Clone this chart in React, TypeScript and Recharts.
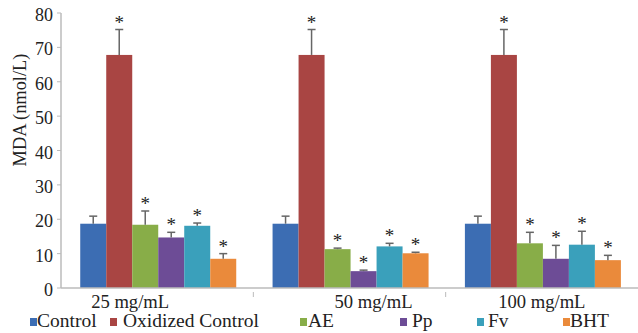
import React from 'react';
import { BarChart, Bar, XAxis, YAxis, Legend, Label } from 'recharts';

const categories = ['25 mg/mL', '50 mg/mL', '100 mg/mL'];
const controlValues = [18.7, 18.7, 18.7];
const controlErrors = [2.2, 2.2, 2.2];
const oxidizedValues = [67.8, 67.8, 67.8];
const oxidizedErrors = [7.4, 7.4, 7.4];
const aeValues = [18.4, 11.3, 13.0];
const aeErrors = [4.0, 0.3, 3.2];
const ppValues = [14.7, 4.9, 8.5];
const ppErrors = [1.5, 0.3, 3.9];
const fvValues = [18.1, 12.1, 12.6];
const fvErrors = [0.8, 0.9, 3.9];
const bhtValues = [8.5, 10.1, 8.1];
const bhtErrors = [1.5, 0.3, 1.4];
const yTicks = [0, 10, 20, 30, 40, 50, 60, 70, 80];

const data = categories.map((c, i) => ({
  cat: c,
  control: controlValues[i], controlErr: controlErrors[i],
  oxidized: oxidizedValues[i], oxidizedErr: oxidizedErrors[i],
  ae: aeValues[i], aeErr: aeErrors[i],
  pp: ppValues[i], ppErr: ppErrors[i],
  fv: fvValues[i], fvErr: fvErrors[i],
  bht: bhtValues[i], bhtErr: bhtErrors[i],
}));

const series = [
  { key: 'control', name: 'Control', color: '#3c6db3', star: false },
  { key: 'oxidized', name: 'Oxidized Control', color: '#a94543', star: true },
  { key: 'ae', name: 'AE', color: '#88ad48', star: true },
  { key: 'pp', name: 'Pp', color: '#6d4c96', star: true },
  { key: 'fv', name: 'Fv', color: '#3aa0bb', star: true },
  { key: 'bht', name: 'BHT', color: '#ea8a3b', star: true },
];

const FONT = 'Liberation Serif, DejaVu Serif, serif';
const W = 638;
const H = 333;
const LEFT = 61;

const txtStyle = { fontFamily: FONT };

const makeShape = (key: string, star: boolean) => (props: any) => {
  const { x, y, width, height, fill, payload } = props;
  const v = payload[key];
  const e = payload[key + 'Err'];
  const ppu = v ? height / v : 0;
  const errTop = y - e * ppu;
  const cx = x + width / 2;
  return (
    <g>
      <rect x={x} y={y} width={width} height={height} fill={fill} />
      <line x1={cx} x2={cx} y1={y} y2={errTop} stroke="#666" strokeWidth={1.5} />
      <line x1={cx - 4} x2={cx + 4} y1={errTop} y2={errTop} stroke="#666" strokeWidth={1.5} />
      {star && (
        <text x={cx} y={errTop - 1} textAnchor="middle" style={txtStyle} fontSize={19} fill="#222">*</text>
      )}
    </g>
  );
};

const labelDx = [-27, 24, 0];

const XTick = (props: any) => {
  const { x, y, payload, index } = props;
  const half = (W - LEFT) / categories.length / 2;
  return (
    <g>
      <text x={x + labelDx[index]} y={y + 12} textAnchor="middle" style={txtStyle} fontSize={18.6} fill="#222">
        {payload.value}
      </text>
      {index < categories.length - 1 && (
        <line x1={x + half} x2={x + half} y1={y - 4} y2={y + 1} stroke="#bbb" strokeWidth={1} />
      )}
    </g>
  );
};

const YTick = (props: any) => {
  const { x, y, payload } = props;
  return (
    <text x={x} y={y + 8} textAnchor="end" style={txtStyle} fontSize={18} fill="#222">
      {payload.value}
    </text>
  );
};

const legendPos = [
  { sq: 30, tx: 37 },
  { sq: 110, tx: 123 },
  { sq: 300, tx: 308 },
  { sq: 400, tx: 412 },
  { sq: 477, tx: 488 },
  { sq: 563, tx: 570 },
];

const LegendContent = () => (
  <svg width={W} height={23} style={{ display: 'block' }}>
    {series.map((s, i) => (
      <g key={s.key}>
        <rect x={legendPos[i].sq} y={8} width={7} height={8} fill={s.color} />
        <text x={legendPos[i].tx} y={17} style={txtStyle} fontSize={19.5} fill="#222">{s.name}</text>
      </g>
    ))}
  </svg>
);

export default function App() {
  return (
    <div style={{ position: 'absolute', left: 0, top: 0, width: W, height: H, background: '#fff' }}>
      <BarChart
        width={W}
        height={H}
        data={data}
        margin={{ top: 13, right: 0, left: 0, bottom: 0 }}
        barCategoryGap="10%"
        barGap={0}
      >
        <XAxis
          dataKey="cat"
          height={22}
          axisLine={{ stroke: '#bbb', strokeWidth: 1.5 }}
          tickLine={false}
          tick={<XTick />}
          interval={0}
        />
        <YAxis
          width={LEFT}
          domain={[0, 80]}
          ticks={yTicks}
          interval={0}
          axisLine={{ stroke: '#bbb', strokeWidth: 1.5 }}
          tickLine={{ stroke: '#bbb' }}
          tickSize={4}
          tickMargin={4}
          tick={<YTick />}
        >
          <Label
            value="MDA (nmol/L)"
            angle={-90}
            position="insideLeft"
            content={() => (
              <text x={20} y={110} transform="rotate(-90 20 110)" textAnchor="middle" dominantBaseline="central" style={txtStyle} fontSize={18.4} fill="#222">
                MDA (nmol/L)
              </text>
            )}
          />
        </YAxis>
        <Legend
          verticalAlign="bottom"
          height={23}
          wrapperStyle={{ left: 0, width: W }}
          content={<LegendContent />}
        />
        {series.map((s) => (
          <Bar
            key={s.key}
            dataKey={s.key}
            name={s.name}
            fill={s.color}
            isAnimationActive={false}
            shape={makeShape(s.key, s.star)}
          />
        ))}
      </BarChart>
    </div>
  );
}
